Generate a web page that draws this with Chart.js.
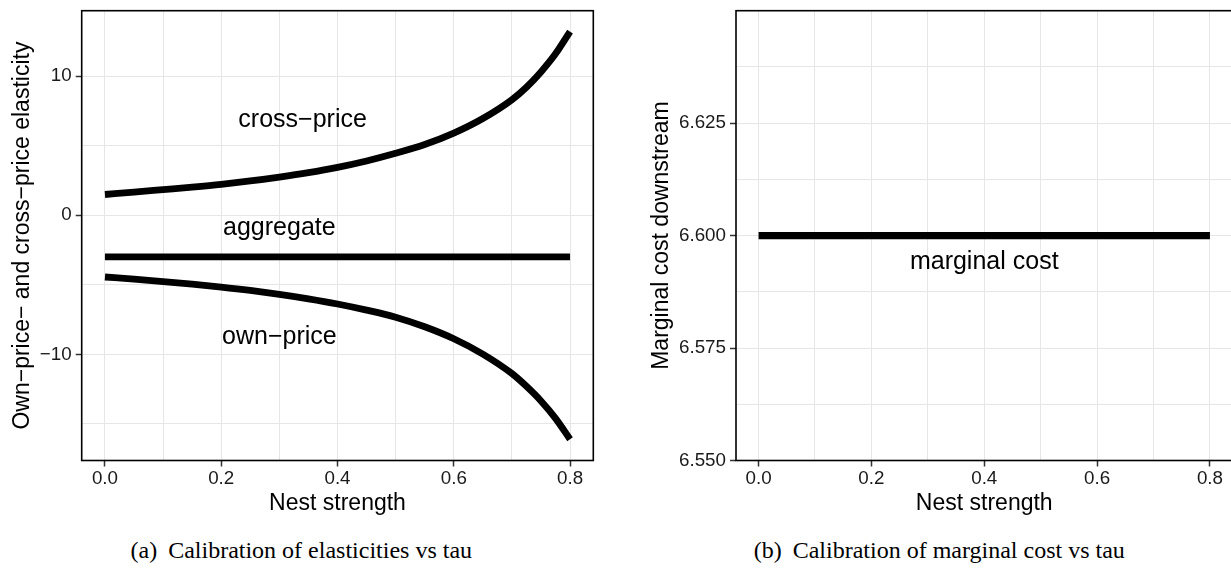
<!DOCTYPE html>
<html><head><meta charset="utf-8">
<script src="https://cdn.jsdelivr.net/npm/chart.js@4.4.0/dist/chart.umd.min.js"></script>
<style>
html,body{margin:0;padding:0;background:#fff;}
body{width:1231px;height:570px;overflow:hidden;position:relative;}
#wa{position:absolute;left:0;top:0;width:620px;height:520px;}
#wb{position:absolute;left:620px;top:0;width:620px;height:520px;}
.cap{position:absolute;top:538px;font-family:"Liberation Serif","Times New Roman",serif;font-size:24px;line-height:24px;white-space:nowrap;color:#000;}
.cap span{margin-right:11px;}
</style></head><body>
<div id="wa"><canvas id="ca" width="620" height="520"></canvas></div>
<div id="wb"><canvas id="cb" width="620" height="520"></canvas></div>
<div class="cap" style="left:130.5px"><span>(a)</span>Calibration of elasticities vs tau</div>
<div class="cap" style="left:753.7px"><span>(b)</span>Calibration of marginal cost vs tau</div>
<script>
// ---- data ----
const nestStrength = [0, 0.05, 0.1, 0.15, 0.2, 0.25, 0.3, 0.35, 0.4, 0.45, 0.5, 0.55, 0.6, 0.65, 0.7, 0.725, 0.75, 0.775, 0.8];
const crossPrice   = [1.49, 1.66, 1.84, 2.02, 2.22, 2.46, 2.74, 3.06, 3.44, 3.9, 4.45, 5.08, 5.9, 6.95, 8.3, 9.2, 10.3, 11.6, 13.2];
const ownPrice     = [-4.44, -4.6, -4.77, -4.96, -5.17, -5.41, -5.69, -6.01, -6.38, -6.82, -7.33, -8.02, -8.88, -9.98, -11.38, -12.3, -13.35, -14.6, -16.1];
const aggregateX   = [0, 0.8];
const aggregate    = [-3, -3];
const marginalX    = [0, 0.8];
const marginalCost = [6.6, 6.6];

const xGridTicks  = [0, 0.1, 0.2, 0.3, 0.4, 0.5, 0.6, 0.7, 0.8];
const xLabelTicks = [0, 0.2, 0.4, 0.6, 0.8];
const yGridTicksA  = [-15, -10, -5, 0, 5, 10];
const yLabelTicksA = [-10, 0, 10];
const yGridTicksB  = [6.55, 6.5625, 6.575, 6.5875, 6.6, 6.6125, 6.625, 6.6375];
const yLabelTicksB = [6.55, 6.575, 6.6, 6.625];

const notesA  = ['cross\u2212price', 'aggregate', 'own\u2212price'];
const notesAX = [0.34, 0.30, 0.30];
const notesAY = [6.35, -1.44, -9.23];
const notesB  = ['marginal cost'];
const notesBX = [0.4];
const notesBY = [6.5925];

// ---- helpers ----
const FONT = '"Liberation Sans", Arial, Helvetica, sans-serif';
const has = (arr, v) => arr.some(a => Math.abs(a - v) < 1e-9);
const pts = (xs, ys) => xs.map((x, i) => ({x: x, y: ys[i]}));

function framePlugin(texts, xs, ys) {
  return {
    id: 'frame',
    afterDatasetsDraw(chart) {
      const {ctx, chartArea: a, scales} = chart;
      ctx.save();
      ctx.font = '25px ' + FONT;
      ctx.fillStyle = '#000';
      ctx.textAlign = 'center';
      ctx.textBaseline = 'alphabetic';
      texts.forEach((t, i) => {
        ctx.fillText(t, scales.x.getPixelForValue(xs[i]), scales.y.getPixelForValue(ys[i]));
      });
      ctx.strokeStyle = '#000';
      ctx.lineWidth = 1.6;
      ctx.strokeRect(a.left, a.top, a.right - a.left, a.bottom - a.top);
      ctx.restore();
    }
  };
}

function makeChart(id, cfg) {
  return new Chart(document.getElementById(id), {
    type: 'line',
    data: {datasets: cfg.datasets.map(d => ({
      data: d, borderColor: '#000', borderWidth: cfg.lw, pointRadius: 0,
      cubicInterpolationMode: 'monotone', borderCapStyle: 'butt', fill: false
    }))},
    options: {
      responsive: false, animation: false, devicePixelRatio: 1,
      layout: {padding: {left: 0, top: 10.7, right: cfg.padRight, bottom: 0}},
      plugins: {legend: {display: false}, tooltip: {enabled: false}},
      scales: {
        x: {
          type: 'linear', min: -0.04, max: 0.84,
          afterBuildTicks: s => { s.ticks = xGridTicks.map(v => ({value: v})); },
          afterFit: s => { s.height = 59.5; s.paddingLeft = 0; s.paddingRight = 0; },
          border: {display: false},
          grid: {color: '#e6e6e6', lineWidth: 1, drawTicks: true, tickLength: 6,
                 tickWidth: 1.5, tickColor: c => has(xLabelTicks, c.tick.value) ? '#333' : 'rgba(0,0,0,0)'},
          ticks: {autoSkip: false, maxRotation: 0, padding: 2.5, color: '#1a1a1a',
                  font: {family: FONT, size: 18.8, lineHeight: 1},
                  callback: v => has(xLabelTicks, v) ? v.toFixed(1) : ''},
          title: {display: true, text: 'Nest strength', color: '#000',
                  font: {family: FONT, size: 23, lineHeight: 1.2}, padding: {top: 0, bottom: 2.3}}
        },
        y: {
          type: 'linear', min: cfg.ymin, max: cfg.ymax,
          afterBuildTicks: s => { s.ticks = cfg.yGrid.map(v => ({value: v})); },
          afterFit: s => { s.width = cfg.yWidth; s.paddingTop = 0; s.paddingBottom = 0; },
          border: {display: false},
          grid: {color: '#e6e6e6', lineWidth: 1, drawTicks: true, tickLength: 6,
                 tickWidth: 1.5, tickColor: c => has(cfg.yLab, c.tick.value) ? '#333' : 'rgba(0,0,0,0)'},
          ticks: {autoSkip: false, padding: 4, color: '#1a1a1a',
                  font: {family: FONT, size: 18.8, lineHeight: 1},
                  callback: v => has(cfg.yLab, v) ? cfg.fmt(v) : ''},
          title: {display: true, text: cfg.yTitle, color: '#000',
                  font: {family: FONT, size: 23, lineHeight: 1.2}, padding: {top: cfg.titlePad, bottom: 0}}
        }
      }
    },
    plugins: [framePlugin(cfg.notes, cfg.notesX, cfg.notesY)]
  });
}

makeChart('ca', {
  datasets: [pts(nestStrength, crossPrice), pts(aggregateX, aggregate), pts(nestStrength, ownPrice)],
  lw: 6.8, padRight: 26.7, ymin: -17.63, ymax: 14.70,
  yGrid: yGridTicksA, yLab: yLabelTicksA, yWidth: 81.7, titlePad: 8.5,
  fmt: v => (v < 0 ? '\u2212' + Math.abs(v) : String(v)),
  yTitle: 'Own\u2212price\u2212 and cross\u2212price elasticity',
  notes: notesA, notesX: notesAX, notesY: notesAY
});

makeChart('cb', {
  datasets: [pts(marginalX, marginalCost)],
  lw: 7.4, padRight: 7.5, ymin: 6.55, ymax: 6.65,
  yGrid: yGridTicksB, yLab: yLabelTicksB, yWidth: 116, titlePad: 27.5,
  fmt: v => v.toFixed(3),
  yTitle: 'Marginal cost downstream',
  notes: notesB, notesX: notesBX, notesY: notesBY
});
</script>
</body></html>
